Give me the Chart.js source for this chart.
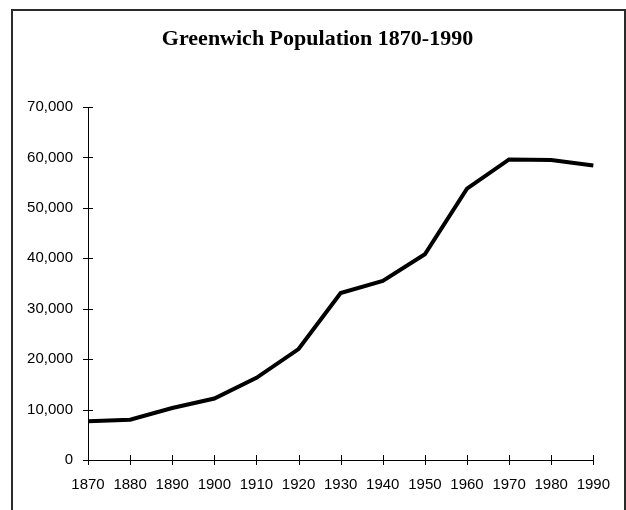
<!DOCTYPE html>
<html>
<head>
<meta charset="utf-8">
<script src="https://cdn.jsdelivr.net/npm/chart.js@4/dist/chart.umd.min.js"></script>
<style>
  html, body { margin: 0; padding: 0; background: #ffffff; }
  #wrap { position: relative; width: 626px; height: 510px; }
</style>
</head>
<body>
<div id="wrap"><canvas id="chart" width="626" height="510"></canvas></div>
<script>
// Census years and population counts
const years = ['1870', '1880', '1890', '1900', '1910', '1920', '1930', '1940', '1950', '1960', '1970', '1980', '1990'];
const population = [7700, 8000, 10300, 12200, 16300, 22000, 33100, 35500, 40800, 53800, 59600, 59500, 58400];
const chartTitle = 'Greenwich Population 1870-1990';
const yMin = 0;
const yMax = 70000;
const yStep = 10000;

// Frame edges (left, top, right); the frame stays open at the bottom
const FRAME = { left: 12, top: 10, right: 625 };

// White page with the open frame
const framePlugin = {
  id: 'frame',
  beforeDraw(chart) {
    const ctx = chart.ctx;
    ctx.save();
    ctx.fillStyle = '#ffffff';
    ctx.fillRect(0, 0, chart.width, chart.height);
    ctx.strokeStyle = '#2a2a2a';
    ctx.lineWidth = 2;
    ctx.beginPath();
    ctx.moveTo(FRAME.left, chart.height);
    ctx.lineTo(FRAME.left, FRAME.top);
    ctx.lineTo(FRAME.right, FRAME.top);
    ctx.lineTo(FRAME.right, chart.height);
    ctx.stroke();
    ctx.restore();
  }
};

// Centre the title across the framed page rather than the plot
const titleCenterPlugin = {
  id: 'titleCenter',
  afterLayout(chart) {
    if (chart.titleBlock) {
      chart.titleBlock.left = FRAME.left - 2;
      chart.titleBlock.right = FRAME.right;
    }
  }
};

// Tick marks that cross the axis lines on both sides
const crossTicksPlugin = {
  id: 'crossTicks',
  afterDraw(chart) {
    const ctx = chart.ctx;
    const xs = chart.scales.x;
    const ys = chart.scales.y;
    const half = 5;
    ctx.save();
    ctx.strokeStyle = '#000000';
    ctx.lineWidth = 1;
    ctx.beginPath();
    xs.ticks.forEach((t, i) => {
      const px = Math.round(xs.getPixelForTick(i)) + 0.5;
      ctx.moveTo(px, ys.bottom - half);
      ctx.lineTo(px, ys.bottom + half);
    });
    ys.ticks.forEach((t, i) => {
      const py = Math.round(ys.getPixelForTick(i)) + 0.5;
      ctx.moveTo(xs.left - half, py);
      ctx.lineTo(xs.left + half, py);
    });
    ctx.stroke();
    ctx.restore();
  }
};

Chart.defaults.color = '#000000';
Chart.defaults.font.family = '"Liberation Sans", Arial, sans-serif';
Chart.defaults.font.size = 15;

new Chart(document.getElementById('chart'), {
  type: 'line',
  data: {
    labels: years,
    datasets: [{
      label: 'Population',
      data: population,
      borderColor: '#000000',
      borderWidth: 4,
      pointRadius: 0,
      tension: 0,
      fill: false
    }]
  },
  options: {
    responsive: false,
    animation: false,
    events: [],
    layout: { padding: { left: 0, right: 32, top: 0, bottom: 0 } },
    plugins: {
      legend: { display: false },
      tooltip: { enabled: false },
      title: {
        display: true,
        text: chartTitle,
        color: '#000000',
        font: { family: '"Liberation Serif", "Times New Roman", serif', size: 22, weight: 'bold', lineHeight: 1.2 },
        padding: { top: 26, bottom: 54.6 }
      }
    },
    scales: {
      x: {
        type: 'category',
        offset: false,
        grid: { display: false, drawTicks: false },
        border: { display: true, color: '#000000', width: 1 },
        ticks: { padding: 16, maxRotation: 0, autoSkip: false, color: '#000000' },
        afterFit(scale) { scale.height = 50; }
      },
      y: {
        min: yMin,
        max: yMax,
        grid: { display: false, drawTicks: false },
        border: { display: true, color: '#000000', width: 1 },
        ticks: {
          stepSize: yStep,
          padding: 15,
          color: '#000000',
          callback: (v) => v.toLocaleString('en-US')
        },
        afterFit(scale) { scale.width = 88; }
      }
    }
  },
  plugins: [framePlugin, titleCenterPlugin, crossTicksPlugin]
});
</script>
</body>
</html>
